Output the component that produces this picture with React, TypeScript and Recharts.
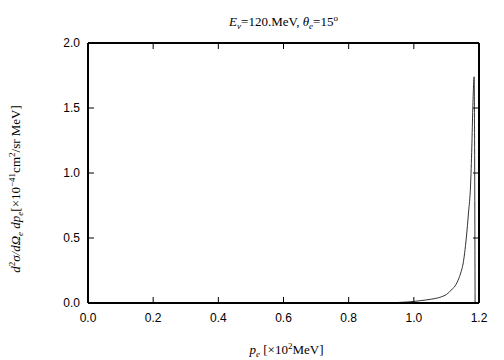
import React from 'react';
import { LineChart, Line, XAxis, YAxis, Label } from 'recharts';

// electron momentum p_e [x10^2 MeV]
const pe = [0.90, 0.93, 0.96, 1.00, 1.02, 1.05, 1.085, 1.10, 1.115, 1.13, 1.136, 1.145, 1.151, 1.161, 1.168, 1.174, 1.178, 1.181, 1.185, 1.188];
// cross section d2sigma/dOmega dp [x10^-41 cm^2/sr MeV]
const xsec = [0.0, 0.002, 0.005, 0.012, 0.018, 0.028, 0.048, 0.065, 0.10, 0.145, 0.176, 0.24, 0.30, 0.50, 0.70, 0.90, 1.2, 1.5, 1.74, 0.0];

const xTicks = [0, 0.2, 0.4, 0.6, 0.8, 1.0, 1.2];
const yTicks = [0, 0.5, 1.0, 1.5, 2.0];

const data = pe.map((p, i) => ({ p, v: xsec[i] }));

const serif = '"Liberation Serif", "Times New Roman", serif';
const sans = '"Liberation Sans", Arial, sans-serif';
const TICK = 6;

const TitleContent = (props: any) => {
  const vb = props.viewBox || { x: 88, width: 392 };
  const cx = vb.x + vb.width / 2;
  return (
    <text x={cx} y={26} textAnchor="middle" fontFamily={serif} fontSize={13} fill="#000">
      <tspan fontStyle="italic">E</tspan>
      <tspan fontStyle="italic" fontSize={9} dy={3}>ν</tspan>
      <tspan dy={-3}>=120.MeV,  </tspan>
      <tspan fontStyle="italic">θ</tspan>
      <tspan fontStyle="italic" fontSize={9} dy={3}>e</tspan>
      <tspan dy={-3}>=15</tspan>
      <tspan fontSize={9} dy={-5}>o</tspan>
    </text>
  );
};

const XLabelContent = (props: any) => {
  const vb = props.viewBox || { x: 88, width: 392 };
  const cx = vb.x + vb.width / 2 + 3;
  return (
    <text x={cx} y={354} textAnchor="middle" fontFamily={serif} fontSize={13} fill="#000">
      <tspan fontStyle="italic">p</tspan>
      <tspan fontStyle="italic" fontSize={9} dy={3}>e</tspan>
      <tspan dy={-3}> [×10</tspan>
      <tspan fontSize={9} dy={-5}>2</tspan>
      <tspan dy={5}>MeV]</tspan>
    </text>
  );
};

const YLabelContent = (props: any) => {
  const vb = props.viewBox || { y: 42, height: 261 };
  const cy = vb.y + vb.height / 2 + 16;
  const bx = 20;
  return (
    <text x={bx} y={cy} transform={`rotate(-90, ${bx}, ${cy})`} textAnchor="middle" fontFamily={serif} fontSize={13} fill="#000">
      <tspan fontStyle="italic">d</tspan>
      <tspan fontSize={9} dy={-5}>2</tspan>
      <tspan fontStyle="italic" dy={5}>σ/d</tspan>
      <tspan fontStyle="italic">Ω</tspan>
      <tspan fontStyle="italic" fontSize={9} dy={3}>e</tspan>
      <tspan fontStyle="italic" dy={-3}> dp</tspan>
      <tspan fontStyle="italic" fontSize={9} dy={3}>e</tspan>
      <tspan dy={-3}>[×10</tspan>
      <tspan fontSize={9} dy={-5}>−41</tspan>
      <tspan dy={5}>cm</tspan>
      <tspan fontSize={9} dy={-5}>2</tspan>
      <tspan dy={5}>/sr MeV]</tspan>
    </text>
  );
};

// bottom axis: label plus inward (upward) tick mark; tickSize 0, tickMargin 10
const BottomTick = (props: any) => {
  const { x, y, payload } = props;
  const axisY = y - 10;
  return (
    <g>
      <line x1={x} y1={axisY} x2={x} y2={axisY - TICK} stroke="#000" strokeWidth={1} />
      <text x={x} y={y} dy="0.71em" textAnchor="middle" fontFamily={sans} fontSize={12} fill="#000">
        {Number(payload.value).toFixed(1)}
      </text>
    </g>
  );
};

// left axis: label plus inward (rightward) tick mark; tickSize 0, tickMargin 8
const LeftTick = (props: any) => {
  const { x, y, payload } = props;
  const axisX = x + 8;
  return (
    <g>
      <line x1={axisX} y1={y} x2={axisX + TICK} y2={y} stroke="#000" strokeWidth={1} />
      <text x={x} y={y} dy="0.355em" textAnchor="end" fontFamily={sans} fontSize={12} fill="#000">
        {Number(payload.value).toFixed(1)}
      </text>
    </g>
  );
};

const TopTick = (props: any) => {
  const { x, y } = props;
  return <line x1={x} y1={y} x2={x} y2={y + TICK} stroke="#000" strokeWidth={1} />;
};

const RightTick = (props: any) => {
  const { x, y } = props;
  return <line x1={x} y1={y} x2={x - TICK} y2={y} stroke="#000" strokeWidth={1} />;
};

export default function App() {
  const axisLine = { stroke: '#000', strokeWidth: 2 };
  return (
    <div style={{ position: 'absolute', left: 0, top: 0, width: 504, height: 360, background: '#fff' }}>
      <LineChart width={504} height={360} data={data} margin={{ top: 42, right: 24, bottom: 27, left: 48 }}>
        <XAxis
          xAxisId="b"
          dataKey="p"
          type="number"
          domain={[0, 1.2]}
          ticks={xTicks}
          tick={BottomTick}
          tickSize={0}
          tickMargin={10}
          axisLine={axisLine}
          tickLine={false}
          height={30}
          allowDataOverflow
          interval={0}
        >
          <Label content={XLabelContent} />
        </XAxis>
        <XAxis
          xAxisId="t"
          orientation="top"
          dataKey="p"
          type="number"
          domain={[0, 1.2]}
          ticks={xTicks}
          tick={TopTick}
          tickSize={0}
          tickMargin={0}
          axisLine={axisLine}
          tickLine={false}
          height={1}
          allowDataOverflow
          interval={0}
        >
          <Label content={TitleContent} />
        </XAxis>
        <YAxis
          yAxisId="l"
          type="number"
          domain={[0, 2]}
          ticks={yTicks}
          tick={LeftTick}
          tickSize={0}
          tickMargin={8}
          axisLine={axisLine}
          tickLine={false}
          width={40}
          allowDataOverflow
          interval={0}
        >
          <Label content={YLabelContent} />
        </YAxis>
        <YAxis
          yAxisId="r"
          orientation="right"
          type="number"
          domain={[0, 2]}
          ticks={yTicks}
          tick={RightTick}
          tickSize={0}
          tickMargin={0}
          axisLine={axisLine}
          tickLine={false}
          width={1}
          allowDataOverflow
          interval={0}
        />
        <Line
          xAxisId="t"
          yAxisId="r"
          dataKey="v"
          type="linear"
          stroke="none"
          dot={false}
          legendType="none"
          isAnimationActive={false}
        />
        <Line
          xAxisId="b"
          yAxisId="l"
          dataKey="v"
          type="monotone"
          stroke="#333"
          strokeWidth={1}
          dot={false}
          isAnimationActive={false}
        />
      </LineChart>
    </div>
  );
}
